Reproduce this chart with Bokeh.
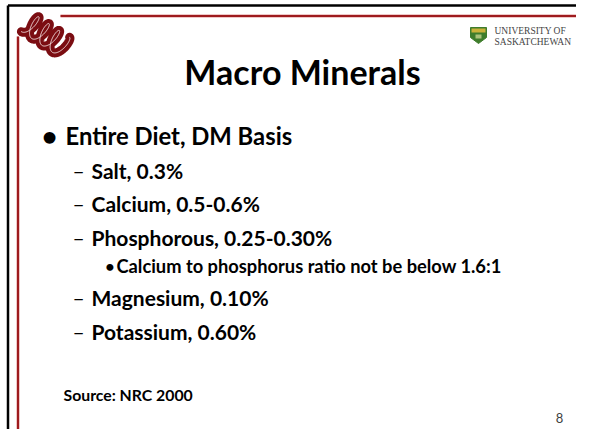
import numpy as np
from bokeh.plotting import figure
from bokeh.models import Range1d
from bokeh.core.properties import value
from bokeh.embed import file_html
from bokeh.resources import INLINE

# ---- slide content ----
title = "Macro Minerals"
level1 = ["Entire Diet, DM Basis"]
level2 = ["Salt, 0.3%", "Calcium, 0.5-0.6%", "Phosphorous, 0.25-0.30%",
          "Magnesium, 0.10%", "Potassium, 0.60%"]
level3 = ["Calcium to phosphorus ratio not be below 1.6:1"]
source = "Source: NRC 2000"
page_no = "8"
uni_lines = ["UNIVERSITY OF", "SASKATCHEWAN"]

# baselines (picture pixel coordinates)
level1_y = [135]
level2_y = [170, 203, 237, 297, 331]
level3_y = [265]

W, H = 576, 429
p = figure(width=W, height=H, output_backend="svg", toolbar_location=None,
           x_range=Range1d(0, W), y_range=Range1d(H, 0),
           min_border=0, outline_line_color=None, background_fill_color="white")
p.axis.visible = False
p.grid.visible = False

FONT = value("Lato")
DARK_RED = "#9e1b1e"

# outer black frame
p.line([7.5, 7.5], [5, H], line_color="black", line_width=2.5)
p.line([7.5, W], [5, 5], line_color="black", line_width=2.5)
# inner red frame
p.line([17.5, 17.5], [36, H], line_color="#f0c8c8", line_width=4)
p.line([17.5, 17.5], [36, H], line_color=DARK_RED, line_width=2)
p.line([60, W], [15.5, 15.5], line_color="#f0c8c8", line_width=4)
p.line([60, W], [15.5, 15.5], line_color=DARK_RED, line_width=2)

# top-left logo (decorative coil)
t = np.linspace(0, 1, 400)
x0, y0, x1, y1 = 27, 22, 63, 46
dx, dy = x1 - x0, y1 - y0
L = np.hypot(dx, dy)
ux, uy = dx / L, dy / L
px, py = -uy, ux
ang = 2 * np.pi * 3.5 * t
along = t * L + 4.5 * np.sin(ang)
perp = 11 * np.cos(ang)
cx = x0 + along * ux + perp * px
cy = y0 + along * uy + perp * py
p.line(cx, cy, line_color="#7b0d12", line_width=9, line_cap="round", line_join="round")
p.line(cx, cy, line_color="#f4e0e0", line_width=1.0, line_cap="round", line_join="round")

# University logo: shield + wordmark (kept inside the frame)
p.patch([470, 486, 486, 478, 470], [27, 27, 37, 43, 37], fill_color="#3f7d2c", line_color="#3f7d2c")
p.patch([471, 485, 485, 471], [28, 28, 32, 32], fill_color="#c9b23a", line_color=None)
p.patch([475, 481, 481, 475], [34, 34, 38, 38], fill_color="#a9c27a", line_color=None)
p.text(x=[494, 494], y=[30, 41], text=uni_lines, text_font=value("Liberation Serif"),
       text_font_size="9.5px", text_color="#444444", text_baseline="alphabetic")

# title
p.text(x=[302], y=[71], text=[title], text_font=FONT, text_font_style="bold",
       text_font_size="34px", text_color="black", text_align="center",
       text_baseline="alphabetic")

# level 1
p.text(x=[49] * len(level1), y=level1_y, text=["•"] * len(level1), text_font=FONT,
       text_font_style="bold", text_font_size="27px", text_align="center",
       text_baseline="alphabetic", text_color="black")
p.text(x=[65] * len(level1), y=level1_y, text=level1, text_font=FONT,
       text_font_style="bold", text_font_size="23.8px", text_baseline="alphabetic",
       text_color="black")

# level 2
p.text(x=[72] * len(level2), y=level2_y, text=["–"] * len(level2), text_font=FONT,
       text_font_size="21px", text_baseline="alphabetic", text_color="black")
p.text(x=[91] * len(level2), y=level2_y, text=level2, text_font=FONT,
       text_font_style="bold", text_font_size="21px", text_baseline="alphabetic",
       text_color="black")

# level 3
p.text(x=[109.5] * len(level3), y=level3_y, text=["•"] * len(level3), text_font=FONT,
       text_font_style="bold", text_font_size="16px", text_align="center",
       text_baseline="alphabetic", text_color="black")
p.text(x=[116] * len(level3), y=level3_y, text=level3, text_font=FONT,
       text_font_style="bold", text_font_size="18.3px", text_baseline="alphabetic",
       text_color="black")

# source
p.text(x=[63], y=[394], text=[source], text_font=FONT, text_font_style="bold",
       text_font_size="15.8px", text_baseline="alphabetic", text_color="black")

# page number
p.text(x=[559], y=[417], text=[page_no], text_font=FONT, text_font_size="13px",
       text_align="center", text_baseline="middle", text_color="#404040")

open("out.html", "w").write(file_html(p, INLINE))
